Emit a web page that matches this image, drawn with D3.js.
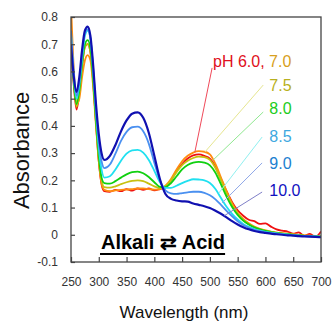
<!DOCTYPE html>
<html>
<head>
<meta charset="utf-8">
<script src="https://d3js.org/d3.v7.min.js"></script>
<style>
body { margin: 0; background: #fff; }
text { font-family: "Liberation Sans", Arial, sans-serif; }
</style>
</head>
<body>
<script>
// wavelength grid (nm), finer in the UV part
var wavelengths = [250, 255, 260, 265, 270, 275, 280, 285, 290, 295, 300, 305, 310,
    320, 330, 340, 350, 360, 370, 380, 390, 400, 410, 420, 430, 440, 450, 460, 470,
    480, 490, 500, 510, 520, 530, 540, 550, 560, 570, 580, 590, 600, 610, 620, 630,
    640, 650, 660, 670, 680, 690, 700];

// absorbance, one list per pH
var ph60 = [0.70, 0.55, 0.46, 0.52, 0.62, 0.69, 0.70, 0.67, 0.56, 0.41, 0.27, 0.185, 0.16,
    0.158, 0.165, 0.16, 0.168, 0.162, 0.17, 0.165, 0.17, 0.163, 0.168, 0.175, 0.20, 0.235,
    0.26, 0.28, 0.292, 0.295, 0.29, 0.28, 0.25, 0.205, 0.16, 0.12, 0.09, 0.07, 0.055, 0.05,
    0.04, 0.042, 0.03, 0.02, 0.015, 0.012, 0.004, 0.009, -0.004, 0.003, -0.008, 0.012];
var ph70 = [0.85, 0.61, 0.48, 0.50, 0.58, 0.64, 0.66, 0.64, 0.54, 0.40, 0.27, 0.19, 0.165,
    0.16, 0.163, 0.165, 0.166, 0.168, 0.17, 0.17, 0.168, 0.166, 0.168, 0.18, 0.205, 0.24,
    0.27, 0.29, 0.302, 0.307, 0.305, 0.295, 0.26, 0.21, 0.16, 0.115, 0.082, 0.058, 0.042,
    0.03, 0.022, 0.016, 0.012, 0.008, 0.006, 0.004, 0.002, 0.0, -0.002, -0.003, -0.004, -0.005];
var ph75 = [0.74, 0.57, 0.47, 0.52, 0.62, 0.69, 0.70, 0.67, 0.56, 0.41, 0.28, 0.20, 0.175,
    0.173, 0.178, 0.186, 0.193, 0.198, 0.20, 0.197, 0.188, 0.178, 0.171, 0.178, 0.20, 0.23,
    0.256, 0.272, 0.282, 0.287, 0.285, 0.275, 0.245, 0.20, 0.152, 0.11, 0.078, 0.055, 0.04,
    0.028, 0.02, 0.015, 0.011, 0.008, 0.005, 0.003, 0.001, -0.001, -0.003, -0.004, -0.005, -0.006];
var ph80 = [0.72, 0.56, 0.48, 0.53, 0.63, 0.70, 0.715, 0.685, 0.57, 0.42, 0.29, 0.21, 0.19,
    0.188, 0.197, 0.21, 0.222, 0.23, 0.232, 0.226, 0.212, 0.193, 0.176, 0.175, 0.19, 0.215,
    0.24, 0.256, 0.265, 0.268, 0.265, 0.255, 0.228, 0.185, 0.14, 0.102, 0.073, 0.052, 0.038,
    0.027, 0.02, 0.014, 0.01, 0.007, 0.004, 0.002, 0.0, -0.002, -0.004, -0.005, -0.006, -0.007];
var ph85 = [0.74, 0.58, 0.50, 0.55, 0.65, 0.73, 0.75, 0.72, 0.60, 0.45, 0.32, 0.24, 0.21,
    0.215, 0.24, 0.272, 0.298, 0.31, 0.312, 0.302, 0.275, 0.235, 0.193, 0.172, 0.172, 0.18,
    0.19, 0.198, 0.204, 0.203, 0.20, 0.19, 0.168, 0.135, 0.103, 0.077, 0.056, 0.04, 0.029,
    0.021, 0.015, 0.011, 0.008, 0.005, 0.003, 0.001, -0.001, -0.003, -0.004, -0.005, -0.006, -0.007];
var ph90 = [0.75, 0.60, 0.51, 0.56, 0.66, 0.74, 0.755, 0.72, 0.61, 0.46, 0.34, 0.27, 0.245,
    0.258, 0.298, 0.345, 0.378, 0.395, 0.397, 0.38, 0.335, 0.265, 0.20, 0.163, 0.152, 0.15,
    0.153, 0.156, 0.158, 0.158, 0.154, 0.145, 0.13, 0.11, 0.088, 0.068, 0.05, 0.036, 0.026,
    0.018, 0.013, 0.009, 0.006, 0.004, 0.002, 0.0, -0.002, -0.003, -0.005, -0.006, -0.007, -0.008];
var ph100 = [0.70, 0.58, 0.525, 0.58, 0.68, 0.75, 0.765, 0.73, 0.62, 0.48, 0.37, 0.30, 0.275,
    0.29, 0.33, 0.38, 0.42, 0.445, 0.45, 0.43, 0.375, 0.29, 0.205, 0.15, 0.132, 0.126,
    0.123, 0.122, 0.115, 0.11, 0.105, 0.098, 0.088, 0.077, 0.064, 0.05, 0.038, 0.028, 0.02,
    0.014, 0.01, 0.007, 0.004, 0.002, 0.0, -0.002, -0.003, -0.005, -0.006, -0.007, -0.008, -0.009];

var series = [ph60, ph70, ph75, ph80, ph85, ph90, ph100];
var seriesColors = ["#f01010", "#ff8c10", "#c8c010", "#10d010", "#20e0f0", "#4a90f0", "#1010b0"];
var seriesWidths = [1.8, 1.8, 1.8, 1.8, 1.8, 1.8, 2.2];

// pH labels and where their leader lines go (wavelength, absorbance)
var labelNames = ["7.5", "8.0", "8.5", "9.0", "10.0"];
var labelColors = ["#b8b020", "#20cc20", "#40a8e0", "#2080d0", "#1010c0"];
var labelAbs = [0.528, 0.444, 0.341, 0.242, 0.142];
var leadColors = ["#f04a5a", "#e6e690", "#90e890", "#90f0f0", "#90a8e8", "#8080c8"];
var leadFromW = [504, 596, 596, 594, 594, 594];
var leadFromA = [0.613, 0.55, 0.451, 0.359, 0.264, 0.157];
var leadToW = [473, 491, 506, 516, 522, 526];
var leadToA = [0.304, 0.304, 0.275, 0.153, 0.117, 0.07];

var xTicks = [250, 300, 350, 400, 450, 500, 550, 600, 650, 700];
var yTicks = [-0.1, 0, 0.1, 0.2, 0.3, 0.4, 0.5, 0.6, 0.7, 0.8];

var width = 332;
var height = 322;

var svg = d3.select("body")
    .append("svg")
    .attr("width", width)
    .attr("height", height);

var x = d3.scaleLinear().domain([250, 700]).range([71, 321]);
var y = d3.scaleLinear().domain([-0.1, 0.8]).range([262, 17]);

// clip so the curves stay in the box
svg.append("clipPath").attr("id", "clip")
    .append("rect")
    .attr("x", x(250)).attr("y", y(0.8))
    .attr("width", x(700) - x(250)).attr("height", y(-0.1) - y(0.8));

var line = d3.line()
    .x((d, i) => x(wavelengths[i]))
    .y(d => y(d))
    .curve(d3.curveMonotoneX);

svg.append("g")
    .attr("clip-path", "url(#clip)")
    .selectAll("path")
    .data(series)
    .enter()
    .append("path")
    .attr("fill", "none")
    .attr("stroke", (d, i) => seriesColors[i])
    .attr("stroke-width", (d, i) => seriesWidths[i])
    .attr("stroke-linejoin", "round")
    .attr("d", line);

// axes, ticks pointing inwards
var yAxis = svg.append("g")
    .attr("transform", "translate(" + x(250) + ",0)")
    .call(d3.axisLeft(y)
        .tickValues(yTicks)
        .tickSize(-4)
        .tickPadding(13)
        .tickFormat(d => d === 0 ? "0" : d.toFixed(1)));

var xAxis = svg.append("g")
    .attr("transform", "translate(0," + y(-0.1) + ")")
    .call(d3.axisBottom(x)
        .tickValues(xTicks)
        .tickSize(-5)
        .tickPadding(15));

[xAxis, yAxis].forEach(g => {
    g.select(".domain").remove(); //frame drawn below
    g.selectAll("line").attr("stroke", "#444").attr("stroke-width", 1.2);
    g.selectAll("text")
        .attr("fill", "#333")
        .style("font-size", "12px")
        .style("font-family", "'Liberation Sans', Arial, sans-serif");
});

svg.append("rect")
    .attr("x", x(250)).attr("y", y(0.8))
    .attr("width", x(700) - x(250)).attr("height", y(-0.1) - y(0.8))
    .attr("fill", "none")
    .attr("stroke", "#444")
    .attr("stroke-width", 1.3);

// axis titles
svg.append("text")
    .attr("transform", "translate(29," + (y(0.31)) + ") rotate(-90)")
    .attr("text-anchor", "middle")
    .attr("font-size", "22px")
    .attr("fill", "#111")
    .text("Absorbance");

svg.append("text")
    .attr("x", 184)
    .attr("y", 318)
    .attr("text-anchor", "middle")
    .attr("font-size", "17px")
    .attr("fill", "#111")
    .text("Wavelength (nm)");

// leader lines
svg.append("g")
    .selectAll("line")
    .data(leadFromW)
    .enter()
    .append("line")
    .attr("x1", (d, i) => x(leadFromW[i]))
    .attr("y1", (d, i) => y(leadFromA[i]))
    .attr("x2", (d, i) => x(leadToW[i]))
    .attr("y2", (d, i) => y(leadToA[i]))
    .attr("stroke", (d, i) => leadColors[i])
    .attr("stroke-width", 1);

// pH labels
var first = svg.append("text")
    .attr("x", x(505.6))
    .attr("y", y(0.616))
    .attr("font-family", "'DejaVu Sans', sans-serif")
    .attr("font-size", "16px");
first.append("tspan").attr("fill", "#e01020").text("pH 6.0, ");
first.append("tspan").attr("fill", "#d8a020").text("7.0");

svg.append("g")
    .selectAll("text")
    .data(labelNames)
    .enter()
    .append("text")
    .attr("x", x(607))
    .attr("y", (d, i) => y(labelAbs[i]))
    .attr("font-family", "'DejaVu Sans', sans-serif")
    .attr("font-size", "16px")
    .attr("fill", (d, i) => labelColors[i])
    .text(d => d);

// Alkali <-> Acid caption, underlined
var cap = svg.append("text")
    .attr("x", 101)
    .attr("y", 249)
    .attr("font-size", "20px")
    .attr("font-weight", "bold")
    .attr("fill", "#000")
    .text("Alkali \u21c4 Acid");

var capLen = cap.node().getComputedTextLength();
svg.append("line")
    .attr("x1", 100).attr("x2", 101 + capLen)
    .attr("y1", 254).attr("y2", 254)
    .attr("stroke", "#000")
    .attr("stroke-width", 2);
</script>
</body>
</html>
